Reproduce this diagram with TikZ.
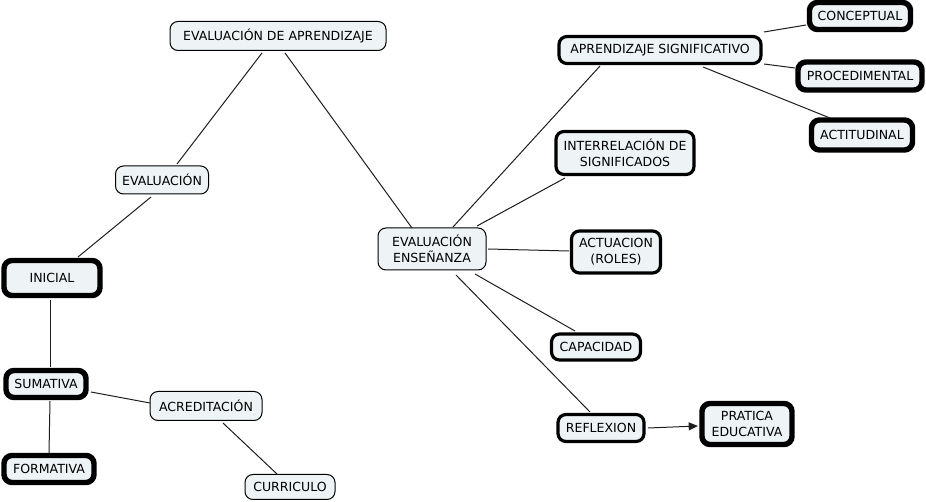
\documentclass[tikz,border=0pt]{standalone}
\usepackage{fontspec}
\setmainfont{DejaVu Sans}
\usetikzlibrary{arrows.meta}
\definecolor{boxfill}{RGB}{238,243,245}
\definecolor{linegray}{RGB}{30,30,30}
\tikzset{
  box/.style={draw=black, fill=boxfill, rounded corners=6pt, align=center, inner sep=0pt,
    font=\fontsize{9.4pt}{12pt}\selectfont},
  bthin/.style={box, line width=0.75pt},
  bmed/.style={box, line width=2.4pt},
  bthick/.style={box, line width=4.1pt},
  sz/.style 2 args={minimum width=#1pt, minimum height=#2pt},
  conn/.style={draw=linegray, line width=0.75pt},
  arr/.style={conn, -{Triangle[length=7pt,width=6pt]}}
}
\begin{document}
\begin{tikzpicture}[x=0.75pt,y=-0.75pt]
\useasboundingbox (0,0) rectangle (926,502);
\node[bthin, sz={162}{21.75}] (eda) at (278,36) {EVALUACIÓN DE APRENDIZAJE};
\node[bthin, sz={69.75}{21}] (eval) at (162,180) {EVALUACIÓN};
\node[bthick, sz={72}{26.25}] (ini) at (52,278) {INICIAL};
\node[bthick, sz={60}{20.25}] (sum) at (46,384) {SUMATIVA};
\node[bthick, sz={67.5}{20.25}] (form) at (49,469) {FORMATIVA};
\node[bthin, sz={84}{21.75}] (acr) at (206,406) {ACREDITACIÓN};
\node[bthin, sz={67.5}{18.75}] (curr) at (290,487) {CURRICULO};
\node[bthin, sz={81}{31.5}] (ee) at (432,249) {EVALUACIÓN\\ENSEÑANZA};
\node[bmed, sz={151.5}{20.25}] (as) at (660,50) {APRENDIZAJE SIGNIFICATIVO};
\node[bthick, sz={75.75}{20.25}] (conc) at (860,16) {CONCEPTUAL};
\node[bthick, sz={93}{21}] (proc) at (860,76) {PROCEDIMENTAL};
\node[bthick, sz={75.75}{22.5}] (acti) at (862,135) {ACTITUDINAL};
\node[bmed, sz={103.5}{32.25}] (inter) at (625,153) {INTERRELACIÓN DE\\SIGNIFICADOS};
\node[bmed, sz={66.75}{31.5}] (actu) at (616,252) {ACTUACION\\(ROLES)};
\node[bmed, sz={66.75}{19.5}] (cap) at (596,347) {CAPACIDAD};
\node[bmed, sz={64.5}{20.25}] (refl) at (601,428) {REFLEXION};
\node[bthick, sz={67.5}{30.75}] (prat) at (747,424) {PRATICA\\EDUCATIVA};

\draw[conn] ([shift={(-16,17)}]eda.center) -- ([shift={(15,-16)}]eval.center);
\draw[conn] ([shift={(7,17)}]eda.center) -- ([shift={(-20,-21)}]ee.center);
\draw[conn] ([shift={(-11,17)}]eval.center) -- ([shift={(26,-21)}]ini.center);
\draw[conn] ([shift={(-2,22)}]ini.center) -- ([shift={(4,-17)}]sum.center);
\draw[conn] ([shift={(4,17)}]sum.center) -- ([shift={(0,-16)}]form.center);
\draw[conn] ([shift={(45,8)}]sum.center) -- ([shift={(-56,-3)}]acr.center);
\draw[conn] ([shift={(17,17)}]acr.center) -- ([shift={(-13,-13)}]curr.center);
\draw[conn] ([shift={(21,-22)}]ee.center) -- ([shift={(-60,16)}]as.center);
\draw[conn] ([shift={(45,-23)}]ee.center) -- ([shift={(-60,25)}]inter.center);
\draw[conn] ([shift={(56,0)}]ee.center) -- ([shift={(-47,-1)}]actu.center);
\draw[conn] ([shift={(43,25)}]ee.center) -- ([shift={(-21,-16)}]cap.center);
\draw[conn] ([shift={(24,26)}]ee.center) -- ([shift={(-11,-16)}]refl.center);
\draw[conn] ([shift={(104,-18)}]as.center) -- ([shift={(-54,9)}]conc.center);
\draw[conn] ([shift={(104,14)}]as.center) -- ([shift={(-65,-8)}]proc.center);
\draw[conn] ([shift={(43,17)}]as.center) -- ([shift={(-32,-17)}]acti.center);
\draw[arr] ([shift={(47,0)}]refl.center) -- ([shift={(-49,2)}]prat.center);
\end{tikzpicture}
\end{document}
